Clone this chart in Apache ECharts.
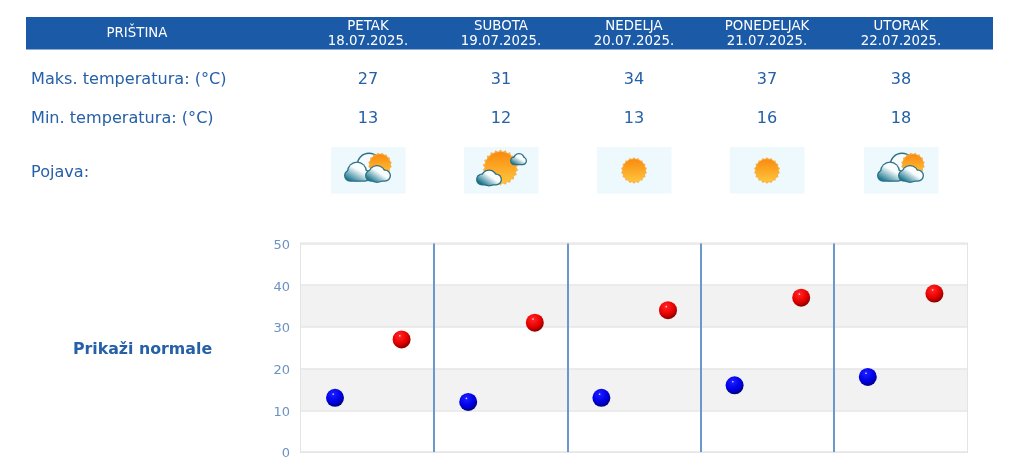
<!DOCTYPE html>
<html><head><meta charset="utf-8">
<style>html,body{margin:0;padding:0;background:#fff}#c{width:1024px;height:475px}</style>
<script src="https://cdn.jsdelivr.net/npm/echarts@6/dist/echarts.min.js"></script>
</head><body><div id="c"></div>
<script>
const station = 'PRIŠTINA';
const days = ['PETAK','SUBOTA','NEDELJA','PONEDELJAK','UTORAK'];
const dates = ['18.07.2025.','19.07.2025.','20.07.2025.','21.07.2025.','22.07.2025.'];
const maxTemps = [27,31,34,37,38];
const minTemps = [13,12,13,16,18];
const icons = ['cloudsun','suncloud','sun','sun','cloudsun'];
const rowLabels = ['Maks. temperatura: (°C)','Min. temperatura: (°C)','Pojava:'];
const yTicks = [0,10,20,30,40,50];
const normalsLabel = 'Prikaži normale';

const colX = [368,501,634,767,901];
const FONT = '"DejaVu Sans", Verdana, sans-serif';
const BLUE = '#2560a8';

function txt(x,y,s,size,color,align,weight){
  return {type:'text',x,y,silent:true,style:{text:s,fontFamily:FONT,fontSize:size,fill:color,align:align||'center',verticalAlign:'middle',fontWeight:weight||'normal'}};
}
function lin(x1,y1,x2,y2,a,b){return {type:'linear',x:x1,y:y1,x2,y2,colorStops:[{offset:0,color:a},{offset:1,color:b}]};}
function circ(cx,cy,r,fill){return {type:'circle',shape:{cx,cy,r},silent:true,style:{fill}};}
function sun(cx,cy,r,n){
  const pts=[];const N=n||18;
  for(let i=0;i<N*2;i++){const a=Math.PI*i/N;const rr=i%2?r:r*0.88;pts.push([cx+rr*Math.cos(a),cy+rr*Math.sin(a)]);}
  return [{type:'polygon',shape:{points:pts},silent:true,style:{fill:'#f7b04a'}},
          circ(cx,cy,r*0.86,lin(0,0,0,1,'#fa8a10','#ffc53a'))];
}
// cloud: lobes + flat base share one gradient in page coordinates, so no seam shows
function cloud(lobes,base,box){
  const edge='#2b7085', out=[];
  const g={type:'linear',global:true,x:box[0]+box[2]*0.62,y:box[1]+box[3]*0.15,x2:box[0]+box[2]*0.25,y2:box[1]+box[3],
    colorStops:[{offset:0,color:'#ffffff'},{offset:0.3,color:'#f8fcfd'},{offset:1,color:'#0f6f88'}]};
  lobes.forEach(b=>out.push(circ(b[0],b[1],b[2],edge)));
  out.push({type:'rect',shape:{x:base[0],y:base[1],width:base[2],height:base[3],r:base[3]/2},silent:true,style:{fill:edge}});
  lobes.forEach(b=>out.push(circ(b[0],b[1],b[2]-1.3,g)));
  out.push({type:'rect',shape:{x:base[0]+1.3,y:base[1]+1.3,width:base[2]-2.6,height:base[3]-2.6,r:(base[3]-2.6)/2},silent:true,style:{fill:g}});
  return out;
}
function icon(kind,cx){
  let parts=[{type:'rect',shape:{x:cx-37,y:147,width:74.5,height:46.5},silent:true,style:{fill:'#eef9fe'}}];
  const d=cx-368;
  if(kind==='sun'){
    parts=parts.concat(sun(cx,170.5,13.2));
  } else if(kind==='cloudsun'){
    parts.push(circ(369+d,165,12.5,'#2b7085'));
    parts.push(circ(369+d,165,11,'#f6fcfe'));
    parts=parts.concat(sun(380+d,164.5,12,16));
    parts=parts.concat(cloud([[357+d,171.5,10]],[344+d,169.5,27,12.2],[344+d,161,27,21]));
    parts=parts.concat(cloud([[377+d,174,9]],[365+d,169.5,26,12.2],[365+d,165,26,17]));
  } else {
    const e=d-133;
    parts=parts.concat(sun(500.5+e,167.5,18,22));
    parts=parts.concat(cloud([[519+e,159,6]],[510+e,156.5,17,8.7],[510+e,153,17,12]));
    parts=parts.concat(cloud([[489+e,178,8.5]],[476+e,173.5,26,12],[476+e,169,26,16]));
  }
  return {type:'group',silent:true,children:parts};
}

const graphics=[
  {type:'rect',shape:{x:26,y:17,width:967,height:32.5},silent:true,style:{fill:'#1b5aa6'}},
  txt(137,33.5,station,13.33,'#ffffff'),
  txt(31,79.5,rowLabels[0],16.1,BLUE,'left'),
  txt(31,118.5,rowLabels[1],16.1,BLUE,'left'),
  txt(31,172.5,rowLabels[2],16.1,BLUE,'left'),
  txt(142.5,349.5,normalsLabel,15.8,BLUE,'center','bold')
];
days.forEach((d,i)=>{
  graphics.push(txt(colX[i],26.5,d,13.33,'#ffffff'));
  graphics.push(txt(colX[i],41.5,dates[i],13.33,'#ffffff'));
  graphics.push(txt(colX[i],79.5,String(maxTemps[i]),16.1,BLUE));
  graphics.push(txt(colX[i],118.5,String(minTemps[i]),16.1,BLUE));
  graphics.push(icon(icons[i],colX[i]));
});

const slots = days.flatMap(d=>[d+' min',d+' max']);
const minData = minTemps.flatMap(v=>[v,null]);
const maxData = maxTemps.flatMap(v=>[null,v]);
function ball(bright,main,dark){
  return {type:'radial',x:0.4,y:0.3,r:0.78,colorStops:[
    {offset:0,color:'#f4f4ff'},{offset:0.09,color:bright},{offset:0.55,color:main},{offset:0.95,color:dark},{offset:1,color:dark}]};
}
const chart=echarts.init(document.getElementById('c'),null,{renderer:'canvas'});
chart.setOption({
  animation:false,
  grid:{left:301,top:243.5,width:666,height:208.5,show:true,backgroundColor:'transparent',borderColor:'#e4e4e4',borderWidth:2},
  xAxis:{type:'category',data:slots,boundaryGap:true,
    axisLine:{show:false},axisTick:{show:false},axisLabel:{show:false},
    splitLine:{show:true,interval:1,showMinLine:false,showMaxLine:false,lineStyle:{color:'#6a97cc',width:2}}},
  yAxis:{type:'value',min:yTicks[0],max:yTicks[yTicks.length-1],interval:10,
    axisLine:{show:false},axisTick:{show:false},
    axisLabel:{color:'#6a92c6',fontFamily:FONT,fontSize:13,margin:11,verticalAlign:'top',lineHeight:4},
    splitLine:{show:true,lineStyle:{color:'#e6e6e6',width:1.5}},
    splitArea:{show:true,areaStyle:{color:['#ffffff','#f2f2f2']}}},
  series:[
    {name:'Min',type:'scatter',data:minData,symbolSize:18,symbolOffset:[0.7,0],z:5,itemStyle:{opacity:1,color:ball('#1a1aff','#0000e6','#00007a')}},
    {name:'Maks',type:'scatter',data:maxData,symbolSize:18,symbolOffset:[0.7,0],z:5,itemStyle:{opacity:1,color:ball('#ff2020','#e80000','#7a0000')}}
  ],
  graphic:{elements:graphics}
});
</script></body></html>
